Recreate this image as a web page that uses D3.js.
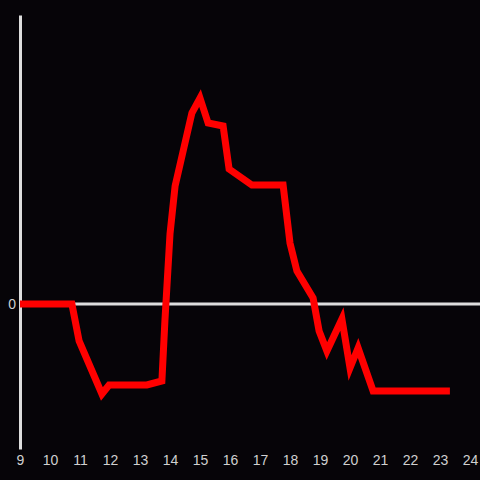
<!DOCTYPE html>
<html>
<head>
<meta charset="utf-8">
<script src="https://cdn.jsdelivr.net/npm/d3@7"></script>
<style>
  html, body { margin: 0; padding: 0; background: #060408; }
  svg { display: block; }
</style>
</head>
<body>
<svg id="chart" width="480" height="480"></svg>
<script>
// hours of the day
const hours = [9, 10.73, 10.97, 11.73, 11.97, 13.23, 13.73, 13.83, 14.0, 14.17, 14.73, 15.0, 15.27,
  15.77, 15.97, 16.73, 17.77, 18.0, 18.23, 18.77, 18.97, 19.23, 19.73, 20.0, 20.27, 20.77, 23.33]
// values at each hour
const values = [0, 0, -3.7, -9.0, -8.1, -8.1, -7.7, -1.7, 7.0, 11.8, 19.1, 20.6, 18.1,
  17.8, 13.5, 11.9, 11.9, 6.1, 3.3, 0.6, -2.7, -4.7, -1.5, -6.4, -4.4, -8.7, -8.7]
const xTicks = d3.range(9, 25)
const yTicks = [0]

const svg = d3.select('#chart')
const axisColor = '#dddddd'

const x = d3.scaleLinear().domain([9, 24]).range([20, 470])
const y = d3.scaleLinear().domain([-14.5, 28.9]).range([449, 15])

// zero line
svg.append('line')
  .attr('x1', x(9)).attr('x2', 480)
  .attr('y1', y(0)).attr('y2', y(0))
  .attr('stroke', axisColor)
  .attr('stroke-width', 3)

// y axis
const yAxis = svg.append('g')
  .attr('transform', `translate(${x(9)},0)`)
  .call(d3.axisLeft(y).tickValues(yTicks).tickSize(0).tickSizeOuter(0).tickPadding(4))
yAxis.select('.domain').attr('stroke', axisColor).attr('stroke-width', 3)
yAxis.selectAll('text')
  .attr('fill', '#d0d0d0')
  .attr('font-family', 'Liberation Sans, Arial, sans-serif')
  .attr('font-size', 14)

// x axis labels
const xAxis = svg.append('g')
  .attr('transform', 'translate(0,453)')
  .call(d3.axisBottom(x).tickValues(xTicks).tickSize(0).tickPadding(2).tickFormat(d3.format('d')))
xAxis.select('.domain').remove()
xAxis.selectAll('text')
  .attr('fill', '#d0d0d0')
  .attr('font-family', 'Liberation Sans, Arial, sans-serif')
  .attr('font-size', 14)

// series line
const line = d3.line()
  .x((d, i) => x(hours[i]))
  .y((d) => y(d))

svg.append('path')
  .datum(values)
  .attr('d', line)
  .attr('fill', 'none')
  .attr('stroke', '#ff0000')
  .attr('stroke-width', 7)
  .attr('stroke-linejoin', 'miter')
</script>
</body>
</html>
